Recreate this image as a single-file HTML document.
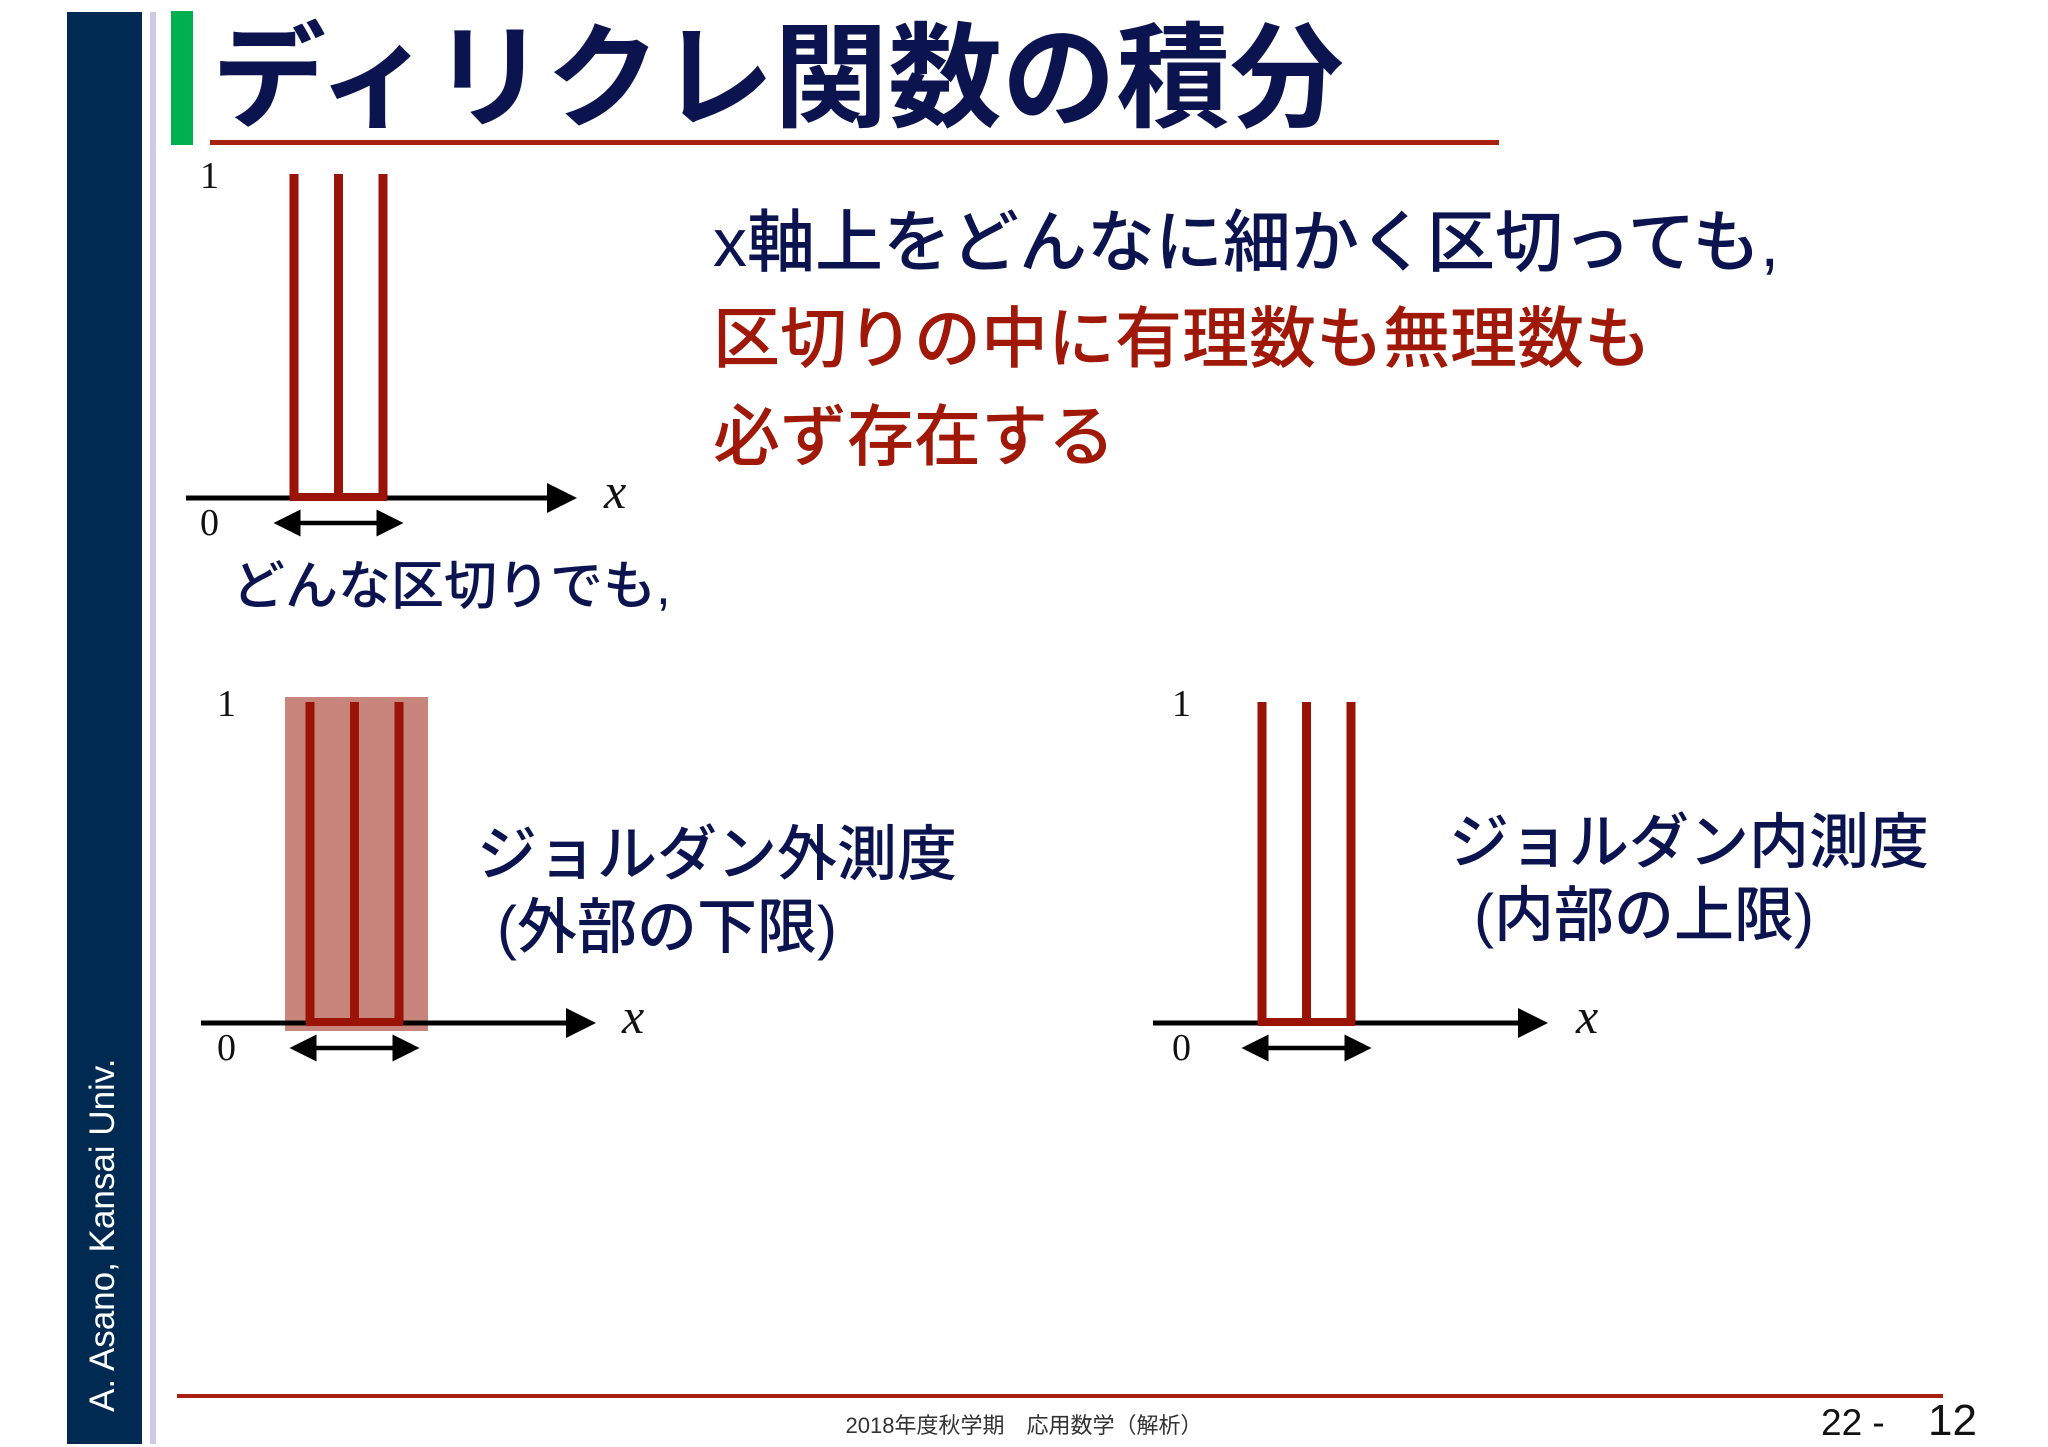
<!DOCTYPE html>
<html><head><meta charset="utf-8"><style>
body{margin:0;background:#fff;}
svg{display:block;}
.jp{font-family:"Liberation Sans","Noto Sans CJK JP",sans-serif;}
.serif{font-family:"Liberation Serif",serif;}
</style></head><body>
<svg id="slide" width="2048" height="1447" viewBox="0 0 2048 1447" xmlns="http://www.w3.org/2000/svg">
<defs>
<marker id="ah" markerWidth="6" markerHeight="6" refX="5" refY="3" orient="auto-start-reverse" markerUnits="strokeWidth"><path d="M0,0 L6,3 L0,6 z" fill="#000"/></marker>
</defs>
<rect x="0" y="0" width="2048" height="1447" fill="#fff"/>
<rect x="67" y="12" width="75" height="1432" fill="#002a52"/>
<rect x="150" y="12" width="6" height="1432" fill="#cfcbe6"/>
<rect x="171" y="11" width="22" height="134" fill="#00b050"/>
<text x="212" y="118" class="jp" font-size="114" font-weight="bold" fill="#0c1450">ディリクレ関数の積分</text>
<rect x="210" y="140" width="1289" height="5" fill="#a8200f"/>
<text transform="translate(114,1412) rotate(-90)" class="jp" font-size="35" fill="#fff">A. Asano, Kansai Univ.</text>

<text x="713" y="266" class="jp" font-size="68" font-weight="500" fill="#0c1450">x軸上をどんなに細かく区切っても,</text>
<text x="713" y="362" class="jp" font-size="67" font-weight="500" fill="#a01808">区切りの中に有理数も無理数も</text>
<text x="713" y="460" class="jp" font-size="67" font-weight="500" fill="#a01808">必ず存在する</text>
<text x="232" y="604" class="jp" font-size="53" font-weight="500" fill="#0c1450">どんな区切りでも,</text>

<text x="477" y="875" class="jp" font-size="60" font-weight="500" fill="#0c1450">ジョルダン外測度</text>
<text x="497" y="948" class="jp" font-size="60" font-weight="500" fill="#0c1450">(外部の下限)</text>
<text x="1449" y="863" class="jp" font-size="60" font-weight="500" fill="#0c1450">ジョルダン内測度</text>
<text x="1474" y="936" class="jp" font-size="60" font-weight="500" fill="#0c1450">(内部の上限)</text>

<g id="charts"></g>

<rect x="177" y="1394" width="1766" height="4" fill="#a8200f"/>
<text x="1024" y="1433" text-anchor="middle" class="jp" font-size="22" fill="#333">2018年度秋学期　応用数学（解析）</text>
<text x="1821" y="1435" class="jp" font-size="37" fill="#111">22 -</text>
<text x="1928" y="1435" class="jp" font-size="44" fill="#111">12</text>
</svg>
<script>
// partition boundaries (in units along x) and function height
const partitions = [0, 1, 2];
const fHeight = [1];
const panels = ['partition', 'outer', 'inner'];
const panelOrigin = {partition:[294,498,174], outer:[310,1023,702], inner:[1262,1023,702]};
const panelAxis = {partition:[186,578,200,617], outer:[201,597,217,635], inner:[1153,1549,1172,1589]};
const NS='http://www.w3.org/2000/svg';
const g=document.getElementById('charts');
function mk(tag,attrs){const e=document.createElementNS(NS,tag);for(const k in attrs)e.setAttribute(k,attrs[k]);g.appendChild(e);return e;}
panels.forEach(p=>{
  const [x0,y0,yTop]=panelOrigin[p];
  const [ax0,ax1,lblX,xLblX]=panelAxis[p];
  const step=44.5;
  const sx=v=>x0+v*step;
  const sy=v=>y0-(y0-yTop)*v;
  const xs=partitions.map(sx);
  if(p==='outer'){
    const r=mk('rect',{x:xs[0]-25,y:sy(fHeight[0])-5,width:xs[xs.length-1]-xs[0]+54,height:y0-sy(fHeight[0])+13,fill:'#c8857b'});
    
    
  }
  const ax=mk('line',{x1:ax0,y1:y0,x2:ax1-6,y2:y0,stroke:'#000','stroke-width':5,'marker-end':'url(#ah)'});
  
  
  xs.forEach((x,i)=>{
    const l=mk('line',{x1:x,y1:sy(fHeight[0]),x2:x,y2:y0,stroke:'#9a1306','stroke-width':9});
    
    
  });
  const b=mk('line',{x1:xs[0]-4,y1:y0-1,x2:xs[xs.length-1]+4,y2:y0-1,stroke:'#9a1306','stroke-width':8});
  
  
  const da=mk('line',{x1:xs[0]-16,y1:y0+25,x2:xs[xs.length-1]+16,y2:y0+25,stroke:'#000','stroke-width':4.5,'marker-end':'url(#ah)','marker-start':'url(#ah)'});
  
  
  const t1=mk('text',{x:lblX,y:yTop+14,'font-size':38,'class':'serif',fill:'#111'});t1.textContent='1';
  
  
  const t0=mk('text',{x:lblX,y:y0+37,'font-size':38,'class':'serif',fill:'#111'});t0.textContent='0';
  
  
  const tx=mk('text',{x:xLblX-13,y:y0+10,'font-size':50,'font-style':'italic','class':'serif',fill:'#111'});tx.textContent='x';
  
  
});
</script>
</body></html>
